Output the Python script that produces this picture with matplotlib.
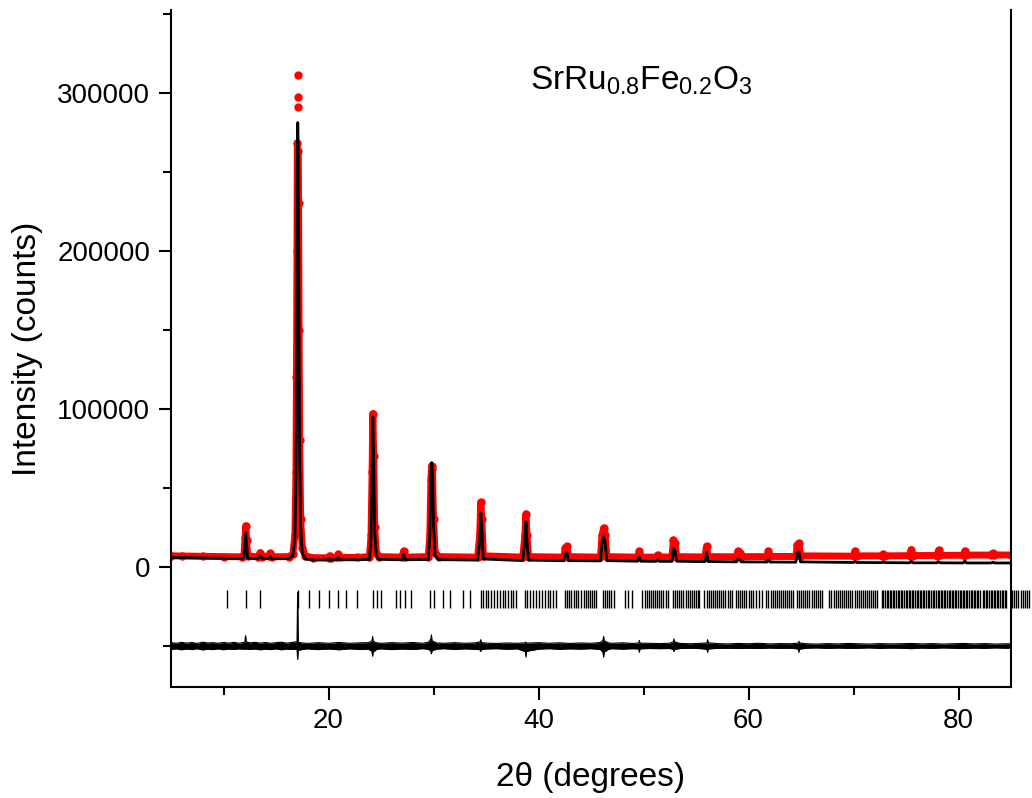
"""Rietveld refinement plot for SrRu0.8Fe0.2O3 (observed, calculated, Bragg ticks, difference)."""

import matplotlib

matplotlib.use("Agg")
import matplotlib.pyplot as plt
import numpy as np
from matplotlib.ticker import MultipleLocator

plt.rcParams["font.family"] = ["Liberation Sans", "DejaVu Sans"]
plt.rcParams["mathtext.fontset"] = "custom"
plt.rcParams["mathtext.rm"] = "Liberation Sans"
plt.rcParams["mathtext.default"] = "regular"

# profile points (2theta in degrees, counts)
two_theta = [
    5.0, 6.0, 8.0, 10.0, 11.8,
    11.95, 12.05, 12.12, 12.2, 12.3,
    13.3, 13.5, 13.7, 14.3, 14.45, 14.6, 16.2, 16.6, 16.8,
    16.9, 16.95, 17.0, 17.03, 17.06, 17.08, 17.1, 17.12, 17.15, 17.2, 17.25, 17.35, 17.5, 17.8,
    18.5, 20.0, 20.1, 20.25, 20.8, 20.95, 21.1, 22.7,
    23.9, 24.05, 24.15, 24.22, 24.3, 24.4, 24.55, 24.8,
    27.0, 27.15, 27.3,
    29.5, 29.65, 29.75, 29.82, 29.9, 30.0, 30.15, 30.5,
    34.2, 34.4, 34.5, 34.6, 34.75,
    38.5, 38.7, 38.8, 38.9, 39.05,
    42.4, 42.55, 42.7, 42.85,
    45.9, 46.05, 46.2, 46.35, 46.5,
    49.45, 49.6, 49.75, 51.2, 51.35, 51.5,
    52.7, 52.85, 53.0, 53.15,
    55.85, 56.0, 56.15,
    58.85, 59.0, 59.15, 59.3,
    61.75, 61.9, 62.05,
    64.5, 64.65, 64.8, 64.95,
    70.0, 70.15, 70.3, 72.7, 72.85, 73.0,
    75.35, 75.5, 75.65, 77.95, 78.1, 78.25,
    80.45, 80.6, 80.75, 83.1, 83.25, 83.4, 85.0,
]
obs_counts = [
    7000, 6900, 6700, 6500, 6400,
    7000, 18000, 26000, 17000, 7000,
    6300, 9000, 6500, 6800, 8500, 6400, 6500, 8000, 20000,
    60000, 120000, 200000, 268000, 291000, 311000, 297000, 263000, 230000, 150000, 80000, 30000, 12000, 7000,
    5800, 5800, 7000, 5800, 6000, 8000, 6000, 6000,
    6500, 20000, 60000, 97000, 70000, 25000, 9000, 6500,
    6200, 10000, 6200,
    6500, 20000, 55000, 64000, 62000, 30000, 9000, 6500,
    6200, 20000, 41000, 30000, 7000,
    6200, 20000, 33500, 20000, 6500,
    6200, 12000, 13000, 6500,
    6200, 20000, 24600, 20000, 6500,
    6200, 10000, 6200, 6200, 7500, 6200,
    6300, 17000, 15000, 6500,
    6300, 13000, 6500,
    6400, 10000, 9000, 6500,
    6500, 10000, 6600,
    6600, 14000, 15000, 7000,
    6800, 10000, 7000, 7000, 8000, 7000,
    7100, 11000, 7200, 7200, 10500, 7300,
    7400, 10000, 7500, 7500, 8500, 7600, 7500,
]
calc_counts = [
    6000, 5900, 5700, 5500, 5400,
    6000, 15000, 21500, 14000, 5500,
    5300, 7000, 5300, 5400, 6500, 5200, 5300, 7000, 18000,
    55000, 110000, 190000, 260000, 281000, 281000, 270000, 240000, 210000, 140000, 70000, 25000, 9000, 5000,
    4400, 4400, 5500, 4400, 4500, 6000, 4500, 4500,
    4800, 18000, 58000, 95000, 66000, 22000, 7000, 4800,
    4500, 8000, 4500,
    4700, 19000, 56000, 66000, 60000, 27000, 7000, 4600,
    4300, 16000, 34000, 24000, 5000,
    4000, 16000, 28500, 16000, 4300,
    3900, 8000, 9000, 4000,
    3800, 15000, 19000, 15000, 4000,
    3600, 6300, 3600, 3500, 4500, 3500,
    3500, 11400, 10000, 3600,
    3300, 9000, 3400,
    3200, 5000, 4500, 3200,
    3100, 4500, 3100,
    3000, 8500, 9500, 3200,
    2800, 3500, 2800, 2700, 3200, 2700,
    2600, 3500, 2600, 2600, 3300, 2600,
    2500, 4000, 2500, 2500, 3000, 2500, 2500,
]

# difference curve envelope (observed - calculated, shifted down)
diff_two_theta = [
    5.0, 5.5, 6.0, 6.5, 7.0, 7.5, 8.0, 8.5, 9.0, 9.5, 10.0, 10.5, 11.0, 11.5,
    12.03, 12.1, 12.17, 12.5, 13.0, 13.5, 14.0, 14.5, 15.0, 15.5, 16.0, 16.5,
    17.0, 17.06, 17.12, 17.5, 18.0, 19.0, 20.0, 21.0, 22.0, 23.0, 23.8,
    24.14, 24.2, 24.26, 24.6, 25.0, 26.0, 27.0, 28.0, 29.0, 29.5,
    29.74, 29.8, 29.86, 30.3, 31.0, 32.0, 33.0, 34.0, 34.44, 34.5, 34.56, 35.0,
    36.0, 37.0, 38.0, 38.74, 38.8, 38.86, 40.0, 41.0, 42.0, 43.0, 44.0, 45.0, 45.9,
    46.14, 46.2, 46.26, 46.7, 47.0, 48.0, 49.0, 49.54, 49.6, 49.66, 50.5, 51.5,
    52.5, 52.84, 52.9, 52.96, 53.5, 54.5, 55.5, 56.04, 56.1, 56.16, 57.0, 58.0,
    59.0, 60.0, 61.0, 62.0, 63.0, 64.0, 64.74, 64.8, 64.86, 65.5, 66.5, 67.5,
    68.5, 69.5, 70.5, 71.5, 72.5, 73.5, 74.5, 75.5, 76.5, 77.5, 78.5, 79.5,
    80.5, 81.5, 82.5, 83.5, 84.5, 85.0,
]
diff_upper = [
    -47900, -48300, -47700, -48200, -47800, -48400, -47600, -48100, -47900, -48300, -47800, -48200, -47700, -48300,
    -47600, -43500, -47400, -48000, -47700, -48200, -47800, -48300, -47900, -47600, -48200, -47800,
    -47200, -16000, -47600, -48100, -48400, -47900, -48300, -47800, -48300, -48000, -47900,
    -46800, -44000, -47200, -48000, -48300, -47900, -48200, -47800, -48300, -47600,
    -45800, -43000, -46800, -48100, -48300, -47900, -48300, -48000, -47400, -46000, -47800, -48200,
    -48400, -48100, -48300, -48000, -47500, -48200, -47900, -48300, -48000, -48400, -48100, -48300, -47800,
    -46200, -44000, -46800, -48100, -48300, -48000, -48400, -48100, -46500, -48200, -48300, -48500,
    -48300, -47200, -45500, -47400, -48400, -48600, -48300, -48100, -46000, -48000, -48500, -48700,
    -48400, -48600, -48300, -48700, -48500, -48600, -48200, -47000, -48100, -48600, -48800, -48500,
    -48700, -48400, -48600, -48800, -48500, -48700, -48600, -48400, -48700, -48500, -48800, -48600,
    -48400, -48700, -48500, -48800, -48600, -48700,
]
diff_lower = [
    -52200, -51800, -52400, -51900, -52300, -51700, -52500, -52000, -52300, -51800, -52400, -51900, -52200, -51800,
    -52100, -51700, -52000, -52200, -51900, -52400, -52000, -52300, -51800, -52400, -52000, -52200,
    -52000, -58500, -52800, -52200, -51800, -52300, -51900, -52400, -51800, -52200, -52000,
    -53500, -56500, -53800, -52100, -51800, -52300, -51900, -52200, -51700, -52100,
    -53200, -55000, -53000, -52000, -51700, -52200, -51800, -52100, -52400, -53500, -52200, -51900,
    -51700, -52100, -51800, -53600, -57000, -53400, -52000, -51700, -52100, -51800, -52000, -51700, -52200,
    -54200, -57000, -53800, -52000, -51700, -52000, -51700, -51900, -54000, -51800, -51600, -51700,
    -51600, -52200, -53500, -52100, -51600, -51400, -51700, -52100, -54000, -51900, -51500, -51400,
    -51600, -51400, -51600, -51300, -51500, -51400, -51900, -54000, -52000, -51400, -51200, -51500,
    -51300, -51500, -51400, -51200, -51500, -51300, -51400, -51700, -51300, -51500, -51200, -51400,
    -51600, -51300, -51500, -51200, -51400, -51300,
]

# Bragg reflection positions (2theta, degrees)
bragg_positions = [
    10.3, 12.1, 13.5, 17.06, 18.1, 19.1, 20.0, 20.9, 21.7, 22.7, 24.2, 24.6, 25.0,
    26.4, 26.8, 27.3, 27.9, 29.7, 30.0, 30.9, 31.6, 32.8, 33.5,
    34.5, 34.7, 35.0, 35.2, 35.5, 35.8, 36.0, 36.3, 36.6, 36.8, 37.1, 37.4, 37.6, 37.9,
    38.7, 38.9, 39.2, 39.5, 39.8, 40.0, 40.3, 40.6, 40.9, 41.1, 41.4, 41.7,
    42.5, 42.7, 42.9, 43.1, 43.4, 43.6, 43.8, 44.0, 44.3, 44.5, 44.7, 44.9, 45.1, 45.3, 45.5,
    46.1, 46.3, 46.5, 46.7, 46.9, 47.2, 48.2, 48.5, 48.9,
    49.9, 50.1, 50.3, 50.5, 50.7, 50.9, 51.1, 51.3, 51.5, 51.7, 51.9, 52.1, 52.3,
    52.8, 53.0, 53.2, 53.4, 53.6, 53.8, 54.0, 54.2, 54.4, 54.6, 54.8, 55.0, 55.15, 55.3,
    55.8, 56.0, 56.2, 56.4, 56.6, 56.8, 57.0, 57.2, 57.4, 57.6, 57.8, 58.0, 58.2, 58.4,
    58.8, 59.0, 59.2, 59.4, 59.6, 59.8, 60.0, 60.2, 60.4, 60.7, 61.0, 61.3,
    61.7, 61.9, 62.1, 62.3, 62.5, 62.7, 62.9, 63.1, 63.3, 63.5, 63.7, 63.9, 64.05, 64.2,
    64.6, 64.8, 65.0, 65.2, 65.4, 65.6, 65.8, 66.0, 66.2, 66.4, 66.6, 66.8, 67.0,
    67.7, 67.9, 68.1, 68.3, 68.5, 68.7, 68.9, 69.1, 69.3, 69.5, 69.7, 69.9,
    70.1, 70.3, 70.5, 70.7, 70.9, 71.1, 71.3, 71.5, 71.7, 71.9, 72.05, 72.2,
    72.7, 72.85, 73.0, 73.15, 73.3, 73.45, 73.6, 73.75, 73.9, 74.05, 74.2, 74.35, 74.5,
    74.65, 74.8, 74.95, 75.1, 75.25, 75.4, 75.55, 75.7, 75.85, 76.0, 76.15, 76.3, 76.45,
    76.6, 76.75, 76.9, 77.05, 77.2, 77.4, 77.55, 77.7, 77.85, 78.0, 78.15, 78.3, 78.45,
    78.6, 78.75, 78.9, 79.05, 79.2, 79.35, 79.5, 79.65, 79.8, 79.95, 80.1, 80.25, 80.4,
    80.55, 80.7, 80.85, 81.0, 81.15, 81.3, 81.45, 81.6, 81.75, 81.9, 82.0,
    82.3, 82.45, 82.6, 82.75, 82.9, 83.05, 83.2, 83.35, 83.5, 83.65, 83.8, 83.95, 84.1,
    84.25, 84.4, 84.5, 85.1, 85.3, 85.5, 85.7, 85.9, 86.1, 86.3, 86.5, 86.7,
]
bragg_top = -14500
bragg_bottom = -26000

x_ticks = [20, 40, 60, 80]
y_ticks = [0, 100000, 200000, 300000]


def main() -> None:
    fig = plt.figure(figsize=(10.32, 7.98), dpi=100)
    ax = fig.add_axes([0.1657, 0.139, 0.814, 0.848])

    # the observed points above the calculated maximum show up as loose dots, not a band
    obs = np.array(obs_counts, dtype=float)
    obs_band = np.where(obs > max(calc_counts), np.nan, obs)
    ax.plot(two_theta, obs_band, color="red", lw=5, solid_capstyle="round",
            solid_joinstyle="round", zorder=2)
    ax.plot(two_theta, obs, ls="none", color="red", marker="o", ms=5, zorder=2)
    ax.plot(two_theta, calc_counts, color="black", lw=2, zorder=3)

    ax.vlines(bragg_positions, bragg_bottom, bragg_top, color="black", lw=1.0, clip_on=False)

    ax.fill_between(diff_two_theta, diff_lower, diff_upper, color="black", lw=0)
    ax.plot(diff_two_theta, diff_upper, color="black", lw=0.8)
    ax.plot(diff_two_theta, diff_lower, color="black", lw=0.8)

    ax.set_xlim(5, 85)
    ax.set_ylim(-76000, 352000)
    ax.set_xticks(x_ticks)
    ax.set_yticks(y_ticks)
    ax.set_yticklabels([str(v) for v in y_ticks])
    ax.xaxis.set_minor_locator(MultipleLocator(10))
    ax.yaxis.set_minor_locator(MultipleLocator(50000))

    ax.spines["top"].set_visible(False)
    for side in ("left", "right", "bottom"):
        ax.spines[side].set_linewidth(1.5)
    ax.tick_params(which="major", direction="out", length=9, width=1.5, labelsize=20, pad=6)
    ax.tick_params(which="minor", direction="out", length=6, width=1.5)
    ax.tick_params(axis="y", right=False)

    ax.set_xlabel("2θ (degrees)", fontsize=24, labelpad=20)
    ax.set_ylabel("Intensity (counts)", fontsize=24, labelpad=10)

    ax.text(39.2, 302000, r"SrRu$_{0.8}$Fe$_{0.2}$O$_3$", fontsize=24, ha="left", va="baseline")

    fig.savefig("out.png", dpi=100)
    plt.close(fig)


if __name__ == "__main__":
    main()
